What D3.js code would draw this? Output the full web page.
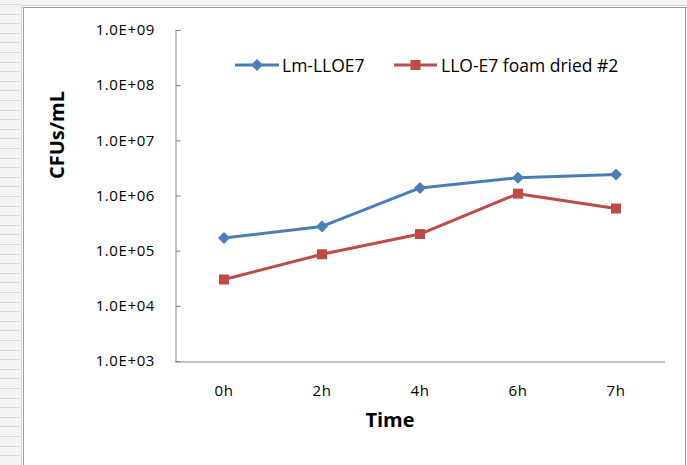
<!DOCTYPE html>
<html><head><meta charset="utf-8">
<script src="https://cdn.jsdelivr.net/npm/d3@7"></script>
<style>html,body{margin:0;padding:0;background:#fff;}svg{display:block;}</style>
</head><body>
<svg id="c" width="687" height="465"></svg>
<script>
const categories = ["0h","2h","4h","6h","7h"];
const seriesNames = ["Lm-LLOE7","LLO-E7 foam dried #2"];
const lmLLOE7 = [1.7e5, 2.75e5, 1.37e6, 2.1e6, 2.4e6];
const lloE7Foam = [3.0e4, 8.6e4, 2.0e5, 1.08e6, 5.8e5];
const yTicks = [1e3,1e4,1e5,1e6,1e7,1e8,1e9];
const yTickLabels = ["1.0E+03","1.0E+04","1.0E+05","1.0E+06","1.0E+07","1.0E+08","1.0E+09"];

const svg = d3.select("#c");
const font = "'Open Sans', 'Liberation Sans', sans-serif";

// sheet-like frame
const strip = svg.append("g");
strip.append("rect").attr("x",0).attr("y",0).attr("width",21).attr("height",465).attr("fill","#f4f4f4");
for (let yy = 4; yy < 465; yy += 9.6) {
  strip.append("line").attr("x1",0).attr("x2",20).attr("y1",Math.round(yy)+0.5).attr("y2",Math.round(yy)+0.5)
    .attr("stroke","#d8d8d8").attr("stroke-width",1);
}
svg.append("rect").attr("x",21).attr("y",0).attr("width",666).attr("height",6).attr("fill","#f4f4f4");
svg.append("line").attr("x1",21.5).attr("x2",21.5).attr("y1",5).attr("y2",465).attr("stroke","#d0d0d0");
svg.append("line").attr("x1",23.5).attr("x2",23.5).attr("y1",7).attr("y2",465).attr("stroke","#9a9a9a");
svg.append("line").attr("x1",21).attr("x2",687).attr("y1",5.5).attr("y2",5.5).attr("stroke","#d0d0d0");
svg.append("line").attr("x1",23).attr("x2",687).attr("y1",7.5).attr("y2",7.5).attr("stroke","#9a9a9a");
svg.append("line").attr("x1",685.5).attr("x2",685.5).attr("y1",7).attr("y2",465).attr("stroke","#9a9a9a");

const x = d3.scaleBand().domain(categories).range([175, 665]);
const y = d3.scaleLog().domain([1e3, 1e9]).range([361, 30]);

// y axis
const yAxis = d3.axisRight(y).tickValues(yTicks).tickSize(5).tickFormat("");
const gy = svg.append("g").attr("transform","translate(175.5,0)").call(yAxis);
gy.select(".domain").attr("stroke","#868686").attr("d","M5,30.5H0.5V361.5");
gy.selectAll(".tick line").attr("stroke","#868686");
svg.append("g").selectAll("text").data(yTicks).join("text")
  .attr("x",155).attr("y",d=>y(d)).attr("dy","0.35em").attr("text-anchor","end")
  .attr("font-family",font).attr("font-size",15).attr("letter-spacing","0.6px").attr("fill","#000")
  .text((d,i)=>yTickLabels[i]);

// x axis
const xAxis = d3.axisBottom(x).tickSize(0).tickPadding(0).tickFormat("");
const gx = svg.append("g").attr("transform","translate(0,361.5)").call(xAxis);
gx.select(".domain").attr("stroke","#868686").attr("d","M175,0.5H665");
svg.append("g").selectAll("text").data(categories).join("text")
  .attr("x",d=>x(d)+x.bandwidth()/2).attr("y",391).attr("dy","0.35em").attr("text-anchor","middle")
  .attr("font-family",font).attr("font-size",15).attr("letter-spacing","0.5px").attr("fill","#000").text(d=>d);

// titles
svg.append("text").attr("x",390).attr("y",420).attr("dy","0.35em").attr("text-anchor","middle")
  .attr("font-family",font).attr("font-weight","bold").attr("font-size",20).text("Time");
svg.append("text").attr("transform","translate(57,135) rotate(-90)").attr("dy","0.35em").attr("text-anchor","middle")
  .attr("font-family",font).attr("font-weight","bold").attr("font-size",20).text("CFUs/mL");

const cx = d => x(d) + x.bandwidth()/2;
const line = d3.line().x(d=>cx(d.c)).y(d=>y(d.v));
const series = [
  {name: seriesNames[0], values: lmLLOE7, color:"#4A7EBB", marker:"diamond"},
  {name: seriesNames[1], values: lloE7Foam, color:"#BE4B48", marker:"square"}
];
function drawMarker(g, type, px, py, color){
  if (type === "square") {
    g.append("rect").attr("x",px-5).attr("y",py-5).attr("width",10).attr("height",10).attr("fill",color);
  } else {
    g.append("path").attr("d","M0,-6L6,0L0,6L-6,0Z").attr("transform",`translate(${px},${py})`).attr("fill",color);
  }
}
series.forEach(s=>{
  const pts = categories.map((c,i)=>({c, v:s.values[i]}));
  svg.append("path").datum(pts).attr("d",line).attr("fill","none").attr("stroke",s.color).attr("stroke-width",3).attr("stroke-linejoin","round");
  const g = svg.append("g");
  pts.forEach(p=>drawMarker(g, s.marker, cx(p.c), y(p.v), s.color));
});

// legend
const legendItems = [
  {x1:235, x2:279, tx:282},
  {x1:394, x2:437, tx:441}
];
series.forEach((s,i)=>{
  const L = legendItems[i];
  svg.append("line").attr("x1",L.x1).attr("x2",L.x2).attr("y1",65).attr("y2",65).attr("stroke",s.color).attr("stroke-width",3);
  drawMarker(svg, s.marker, (L.x1+L.x2)/2, 65, s.color);
  svg.append("text").attr("x",L.tx).attr("y",66).attr("dy","0.35em").attr("font-family",font).attr("font-size",17.5).attr("fill","#000").text(s.name);
});
</script>
</body></html>
